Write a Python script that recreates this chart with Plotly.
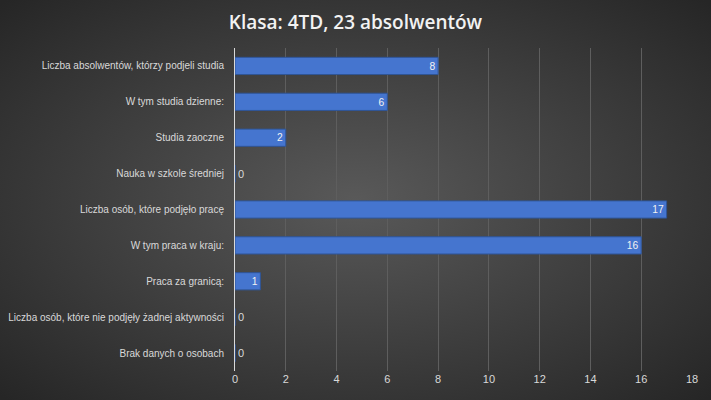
import plotly.graph_objects as go

# Data:
categories = [
    "Liczba absolwentów, którzy podjeli studia",
    "W tym studia dzienne:",
    "Studia zaoczne",
    "Nauka w szkole średniej",
    "Liczba osób, które podjęło pracę",
    "W tym praca w kraju:",
    "Praca za granicą:",
    "Liczba osób, które nie podjęły żadnej aktywności",
    "Brak danych o osobach",
]
values = [8, 6, 2, 0, 17, 16, 1, 0, 0]
x_ticks = [0, 2, 4, 6, 8, 10, 12, 14, 16, 18]
title_text = "Klasa: 4TD, 23 absolwentów"

# Background gradient (dark radial, like the Office theme):
bg_svg = (
    "data:image/svg+xml;utf8,"
    "<svg xmlns='http://www.w3.org/2000/svg' width='711' height='400' preserveAspectRatio='none'>"
    "<defs><radialGradient id='g' cx='50%' cy='50%' r='70%'>"
    "<stop offset='0' stop-color='%23595959'/>"
    "<stop offset='1' stop-color='%23262626'/>"
    "</radialGradient></defs>"
    "<rect width='711' height='400' fill='url(%23g)'/></svg>"
)

text_pos = ["inside" if v > 0 else "outside" for v in values]

fig = go.Figure()
fig.add_trace(
    go.Bar(
        x = values,
        y = categories,
        orientation = "h",
        marker = dict(
            color = "#4575cf",
            line = dict(color = "#2f5597", width = 1)
        ),
        text = values,
        textposition = text_pos,
        textangle = 0,
        insidetextanchor = "end",
        insidetextfont = dict(color = "#f2f2f2", size = 11),
        outsidetextfont = dict(color = "#d9d9d9", size = 11),
        cliponaxis = False,
        width = 0.48,
    )
)
fig.update_layout(
    width = 711,
    height = 400,
    margin = dict(l = 235, r = 19, t = 48, b = 29),
    paper_bgcolor = "#3a3a3a",
    plot_bgcolor = "rgba(0,0,0,0)",
    font = dict(family = "Liberation Sans Narrow, Liberation Sans, sans-serif", color = "#d9d9d9", size = 10),
    title = dict(
        text = title_text,
        x = 0.5,
        xanchor = "center",
        y = 0.945,
        yanchor = "middle",
        font = dict(family = "Open Sans, sans-serif", size = 19, color = "#f2f2f2", weight = 600),
    ),
    showlegend = False,
    images = [dict(
        source = bg_svg,
        xref = "paper", yref = "paper",
        x = -235 / 457, y = 1 + 48 / 323,
        sizex = 711 / 457, sizey = 400 / 323,
        sizing = "stretch",
        layer = "below",
        xanchor = "left", yanchor = "top",
    )],
    xaxis = dict(
        range = [0, 18],
        tickvals = x_ticks,
        showgrid = True,
        gridcolor = "#5e5e5e",
        gridwidth = 1,
        zeroline = False,
        showline = False,
        ticks = "",
        automargin = False,
        tickfont = dict(size = 11, color = "#d9d9d9"),
    ),
    yaxis = dict(
        autorange = "reversed",
        showline = True,
        linecolor = "#d9d9d9",
        linewidth = 1,
        ticks = "",
        ticklabelstandoff = 8,
        showgrid = False,
        automargin = False,
        tickfont = dict(size = 10, color = "#d9d9d9"),
    ),
)
fig.write_html(
    "out.html",
    config = {"displayModeBar": False},
    post_script = "document.body.style.margin = '0';"
)
